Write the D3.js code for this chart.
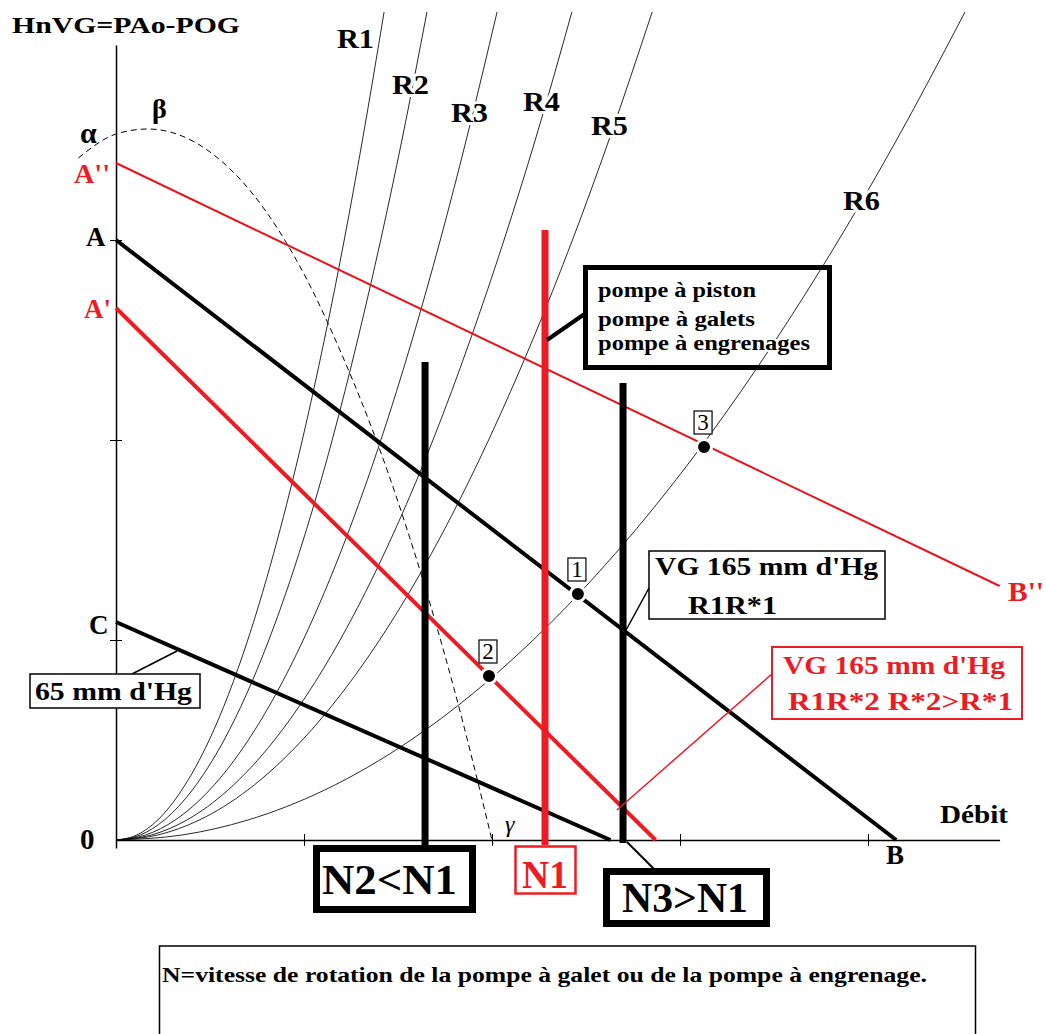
<!DOCTYPE html>
<html><head><meta charset="utf-8">
<script src="https://cdn.jsdelivr.net/npm/d3@7"></script>
<style>
body{margin:0;background:#fff;}
svg{display:block;background:#fff;}
text{font-family:"Liberation Serif","Times New Roman",serif;font-weight:bold;}
</style></head><body>
<svg id="c" width="1046" height="1034"></svg>
<script>
// ---------------- DATA ----------------
const xTicks = [1, 2, 3, 4];
const yTicks = [1, 2, 3];

// resistance curves (débit, pression)
const curveNames = ["R1", "R2", "R3", "R4", "R5", "R6"];
const curveR1 = [[0,0],[0.111,0.025],[0.222,0.1],[0.350,0.25],[0.496,0.5],[0.701,1],[0.858,1.5],[0.991,2],[1.108,2.5],[1.214,3],[1.311,3.5],[1.426,4.14]];
const curveR2 = [[0,0],[0.129,0.025],[0.257,0.1],[0.406,0.25],[0.575,0.5],[0.813,1],[0.996,1.5],[1.150,2],[1.285,2.5],[1.408,3],[1.521,3.5],[1.654,4.14]];
const curveR3 = [[0,0],[0.157,0.025],[0.315,0.1],[0.498,0.25],[0.704,0.5],[0.996,1],[1.220,1.5],[1.409,2],[1.575,2.5],[1.725,3],[1.863,3.5],[2.027,4.14]];
const curveR4 = [[0,0],[0.188,0.025],[0.377,0.1],[0.596,0.25],[0.843,0.5],[1.192,1],[1.460,1.5],[1.686,2],[1.884,2.5],[2.064,3],[2.230,3.5],[2.425,4.14]];
const curveR5 = [[0,0],[0.222,0.025],[0.443,0.1],[0.701,0.25],[0.991,0.5],[1.402,1],[1.717,1.5],[1.982,2],[2.216,2.5],[2.428,3],[2.622,3.5],[2.852,4.14]];
const curveR6 = [[0,0],[0.351,0.025],[0.702,0.1],[1.110,0.25],[1.569,0.5],[2.219,1],[2.718,1.5],[3.139,2],[3.509,2.5],[3.844,3],[4.152,3.5],[4.516,4.14]];
const curves = [curveR1, curveR2, curveR3, curveR4, curveR5, curveR6];

// dashed pump curve alpha-beta-gamma
const pumpCurve = [[-0.2,3.41],[0,3.53],[0.17,3.555],[0.5,3.44],[0.8,3.14],[1.0,2.83],[1.2,2.43],[1.4,1.96],[1.6,1.40],[1.8,0.75],[2.005,-0.02]];

// straight characteristic lines
const lineNames = ["A''B''", "AB", "A'B'", "C"];
const lineStart = [[0,3.385],[0,3.0],[0,2.66],[0,1.09]];
const lineEnd   = [[4.70,1.27],[4.15,0],[2.87,0],[2.63,0]];

// pump speed verticals
const speedNames = ["N2", "N1", "N3"];
const speedX   = [1.644, 2.282, 2.697];
const speedTop = [2.39, 3.05, 2.285];

// operating points
const pointNames = ["1", "2", "3"];
const pointXY = [[2.457,1.23],[1.984,0.82],[3.128,1.965]];

// ---------------- CHART ----------------
const RED = "#ed1c24";
const svg = d3.select("#c");
const x = d3.scaleLinear().domain([0, 4.7]).range([116, 116 + 4.7*188]);
const y = d3.scaleLinear().domain([-0.04, 3.975]).range([848, 45]);
const line = d3.line().x(d => x(d[0])).y(d => y(d[1])).curve(d3.curveMonotoneX);

// resistance curves
svg.append("g").selectAll("path").data(curves).join("path")
  .attr("d", line).attr("fill","none").attr("stroke","#111").attr("stroke-width",0.9);

// dashed pump curve
svg.append("path").datum(pumpCurve).attr("d", line)
  .attr("fill","none").attr("stroke","#000").attr("stroke-width",1).attr("stroke-dasharray","6,4");

// axes
const xa = svg.append("g").attr("transform",`translate(0,${y(0)})`)
  .call(d3.axisBottom(x).tickValues(xTicks).tickFormat("").tickSizeInner(6).tickSizeOuter(0));
xa.selectAll(".tick line").attr("y1",-6).attr("y2",6);
const ya = svg.append("g").attr("transform",`translate(${x(0)},0)`)
  .call(d3.axisLeft(y).tickValues(yTicks).tickFormat("").tickSizeInner(6).tickSizeOuter(0));
ya.selectAll(".tick line").attr("x1",-6).attr("x2",6);
svg.selectAll(".domain").attr("stroke-width",1.5);

// straight lines
const lineColor = ["#e8141c","#000",RED,"#000"];
const lineWidth = [2,4,4,4];
svg.append("g").selectAll("line").data(lineNames).join("line")
  .attr("x1",(d,i)=>x(lineStart[i][0])).attr("y1",(d,i)=>y(lineStart[i][1]))
  .attr("x2",(d,i)=>x(lineEnd[i][0])).attr("y2",(d,i)=>y(lineEnd[i][1]))
  .attr("stroke",(d,i)=>lineColor[i]).attr("stroke-width",(d,i)=>lineWidth[i]);

// speed verticals
const speedColor = ["#000", RED, "#000"];
const speedBottom = [-0.03, -0.025, -0.015];
svg.append("g").selectAll("line").data(speedNames).join("line")
  .attr("x1",(d,i)=>x(speedX[i])).attr("x2",(d,i)=>x(speedX[i]))
  .attr("y1",(d,i)=>y(speedTop[i])).attr("y2",(d,i)=>y(speedBottom[i]))
  .attr("stroke",(d,i)=>speedColor[i]).attr("stroke-width",7);

// helper for text
function label(s, tx, ty, size, opt={}) {
  const t = svg.append("text").attr("x",tx).attr("y",ty).attr("font-size",size)
    .attr("fill",opt.color||"#000").text(s);
  if (opt.len) t.attr("textLength",opt.len).attr("lengthAdjust","spacingAndGlyphs");
  if (opt.halo) t.attr("stroke","#fff").attr("stroke-width",opt.halo).attr("paint-order","stroke").attr("stroke-linejoin","round");
  if (opt.normal) t.style("font-weight","normal");
  if (opt.italic) t.style("font-style","italic");
  if (opt.anchor) t.attr("text-anchor",opt.anchor);
  return t;
}
function box(bx, by, w, h, sw, color, fill) {
  svg.append("rect").attr("x",bx).attr("y",by).attr("width",w).attr("height",h)
    .attr("fill",fill||"none").attr("stroke",color||"#000").attr("stroke-width",sw);
}
function seg(x1,y1,x2,y2,sw,color){
  svg.append("line").attr("x1",x1).attr("y1",y1).attr("x2",x2).attr("y2",y2)
    .attr("stroke",color||"#000").attr("stroke-width",sw);
}

// pompe box + leader
seg(x(speedX[1])+2, 340, 586, 313, 4);
box(585.5, 267.5, 244, 100, 5, "#000", "none");
label("pompe à piston", 598, 297, 20, {len:158, halo:4});
label("pompe à galets", 598, 326, 20, {len:157, halo:4});
label("pompe à engrenages", 598, 350, 20, {len:212, halo:4});

// VG black box
seg(649, 588, 625, 632, 1.5);
box(649, 551, 236, 68, 1.5, "#000", "#fff");
label("VG 165 mm d'Hg", 655, 575, 26, {len:223});
label("R1R*1", 688, 614, 26, {len:89});

// VG red box
seg(773, 673, 617, 810, 1.5, RED);
box(772, 647, 250, 72, 2, RED, "#fff");
label("VG 165 mm d'Hg", 783, 674, 26, {len:222, color:RED});
label("R1R*2 R*2>R*1", 788, 710, 26, {len:225, color:RED});

// 65 mm box
seg(132, 674, 177, 651, 1.5);
box(30, 674, 170, 34, 1.5, "#000", "#fff");
label("65 mm d'Hg", 35, 700, 25, {len:157});

// bottom N boxes
seg(627, 842, 655, 870, 2);
box(316.5, 848.5, 156, 61, 7, "#000", "#fff");
label("N2<N1", 322, 894, 42, {len:135});
box(515.5, 846.5, 60, 47, 2.5, RED, "#fff");
label("N1", 522, 888, 40, {len:46, color:RED});
box(606.5, 871.5, 160, 52, 7, "#000", "#fff");
label("N3>N1", 622, 912, 42, {len:126});

// operating points
const pg = svg.append("g").selectAll("g").data(pointNames).join("g")
  .attr("transform",(d,i)=>`translate(${x(pointXY[i][0])},${y(pointXY[i][1])})`);
pg.append("circle").attr("r",7.5).attr("fill","#000").attr("stroke","#fff").attr("stroke-width",3);
pg.append("rect").attr("x",-10).attr("y",-36).attr("width",18).attr("height",23)
  .attr("fill","#fff").attr("stroke","#000").attr("stroke-width",1.2);
pg.append("text").attr("x",-1).attr("y",-17).attr("text-anchor","middle").attr("font-size",23)
  .style("font-weight","normal").text(d=>d);

// curve labels
const rLabelPos = [[337,48],[392,94],[451,122],[523,111],[591,135],[843,210]];
curveNames.forEach((n,i)=>label(n, rLabelPos[i][0], rLabelPos[i][1], 27, {len:37, halo:6}));

// axis & misc labels
label("HnVG=PAo-POG", 12, 33, 23, {len:228});
label("α", 80, 143, 30);
label("β", 152, 118, 28);
label("A''", 74, 183, 27, {color:RED, len:36});
label("A", 86, 246, 27);
label("A'", 84, 318, 27, {color:RED, len:27});
label("C", 89, 634, 27);
label("0", 80, 849, 29);
label("γ", 505, 832, 24, {normal:true, italic:true});
label("Débit", 940, 823, 26, {len:68});
label("B", 886, 864, 27);
label("B''", 1008, 601, 27, {color:RED, len:36});

// note box
box(159.5, 946, 816, 100, 1.5, "#000", "#fff");
label("N=vitesse de rotation de la pompe à galet ou de la pompe à engrenage.", 162, 982, 21, {len:765});
</script>
</body></html>
